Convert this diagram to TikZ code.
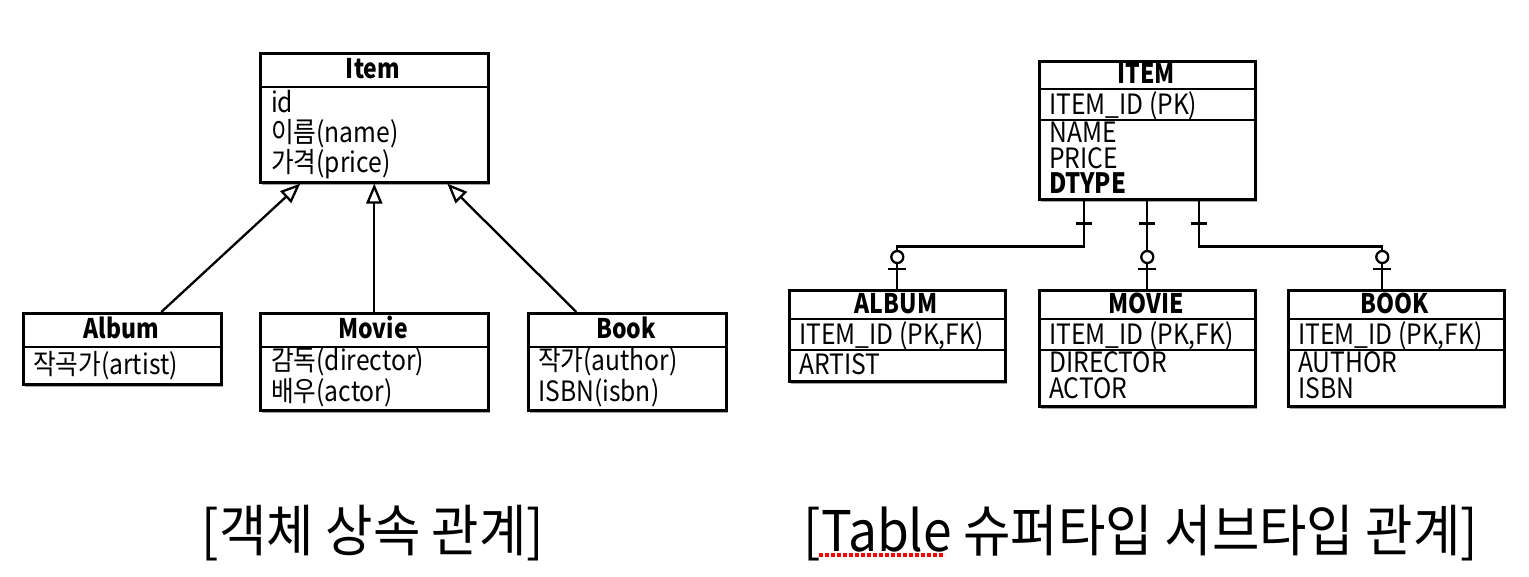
\documentclass[tikz,border=0pt]{standalone}
\usepackage{fontspec}
\setmainfont{Noto Sans CJK KR}
\newfontfamily\rowfont{Noto Sans CJK KR}[FakeStretch=0.88]
\newfontfamily\headfont{Noto Sans CJK KR}[FakeStretch=0.85]
\newfontfamily\capfont{Noto Sans CJK KR}[FakeStretch=0.92]
\usetikzlibrary{arrows.meta,shadows,calc}
\tikzset{
  box/.style={draw=black, line width=2.6pt, fill=white, anchor=north west, inner sep=0pt,
    drop shadow={shadow xshift=1.5pt, shadow yshift=-3pt, fill=black, opacity=0.35}},
  sepln/.style={line width=2.2pt},
  row/.style={anchor=base west, inner sep=0pt, text height=20pt, text depth=4pt,
    font=\rowfont\fontsize{28}{30}\selectfont},
  head/.style={anchor=base, inner sep=0pt, text height=20pt, text depth=4pt,
    font=\headfont\fontsize{27}{30}\selectfont\bfseries},
  captext/.style={anchor=base, inner sep=0pt, font=\capfont\fontsize{56}{60}\selectfont},
  inh/.style={line width=2.3pt, -{Triangle[open, length=20pt, width=16pt, line width=2.3pt]}},
  rel/.style={line width=2.3pt},
  tickln/.style={line width=2.3pt},
  ring/.style={line width=2.3pt, fill=white},
}
\begin{document}
\begin{tikzpicture}[x=1pt, y=-1pt]
\fill[white] (0,0) rectangle (1529,576);
\useasboundingbox (0,0) rectangle (1529,576);

% ---------- left: object inheritance ----------
\node[box, minimum width=228pt, minimum height=129pt] (item) at (259,52) {};
\draw[sepln] (259,87) -- (487,87);
\node[head] (itemh) at (373,78) {Item};
\node[row] (itemr1) at (271,112) {id};
\node[row] (itemr2) at (271,142) {이름(name)};
\node[row] (itemr3) at (271,172) {가격(price)};

\node[box, minimum width=198pt, minimum height=71pt] (album) at (22,312) {};
\draw[sepln] (22,347) -- (220,347);
\node[head] (albumh) at (121,338) {Album};
\node[row] (albumr1) at (33,374) {작곡가(artist)};

\node[box, minimum width=228pt, minimum height=97pt] (movie) at (259,312) {};
\draw[sepln] (259,347) -- (487,347);
\node[head] (movieh) at (373,338) {Movie};
\node[row] (movier1) at (271,370) {감독(director)};
\node[row] (movier2) at (271,401) {배우(actor)};

\node[box, minimum width=198pt, minimum height=97pt] (book) at (527,312) {};
\draw[sepln] (527,347) -- (725,347);
\node[head] (bookh) at (626,338) {Book};
\node[row] (bookr1) at (538,370) {작가(author)};
\node[row] (bookr2) at (538,401) {ISBN(isbn)};

\draw[inh] ([xshift=39pt]album.north) -- ([xshift=-74pt]item.south);
\draw[inh] (movie.north) -- (item.south);
\draw[inh] ([xshift=-51pt]book.north) -- ([xshift=73pt]item.south);

% ---------- right: tables ----------
\node[box, minimum width=216pt, minimum height=138pt] (titem) at (1038,60) {};
\draw[sepln] (1038,89) -- (1254,89);
\draw[sepln] (1038,120) -- (1254,120);
\node[head] (titemh) at (1146,83) {ITEM};
\node[row] (titemr1) at (1049,114) {ITEM\_ID (PK)};
\node[row] (titemr2) at (1049,142) {NAME};
\node[row] (titemr3) at (1049,168) {PRICE};
\node[row, font=\headfont\fontsize{28}{30}\selectfont\bfseries] (titemr4) at (1049,193) {DTYPE};

\node[box, minimum width=216pt, minimum height=91pt] (talbum) at (788,289) {};
\draw[sepln] (788,319) -- (1004,319);
\draw[sepln] (788,350) -- (1004,350);
\node[head] (talbumh) at (896,313) {ALBUM};
\node[row] (talbumr1) at (799,344) {ITEM\_ID (PK,FK)};
\node[row] (talbumr2) at (799,374) {ARTIST};

\node[box, minimum width=216pt, minimum height=116pt] (tmovie) at (1038,289) {};
\draw[sepln] (1038,319) -- (1254,319);
\draw[sepln] (1038,350) -- (1254,350);
\node[head] (tmovieh) at (1146,313) {MOVIE};
\node[row] (tmovier1) at (1049,344) {ITEM\_ID (PK,FK)};
\node[row] (tmovier2) at (1049,372) {DIRECTOR};
\node[row] (tmovier3) at (1049,398) {ACTOR};

\node[box, minimum width=216pt, minimum height=116pt] (tbook) at (1287,289) {};
\draw[sepln] (1287,319) -- (1503,319);
\draw[sepln] (1287,350) -- (1503,350);
\node[head] (tbookh) at (1395,313) {BOOK};
\node[row] (tbookr1) at (1298,344) {ITEM\_ID (PK,FK)};
\node[row] (tbookr2) at (1298,372) {AUTHOR};
\node[row] (tbookr3) at (1298,398) {ISBN};

% connectors
\draw[rel] ([xshift=-63pt]titem.south) -- ++(0,46) -| (talbum.north);
\draw[rel] (titem.south) -- (tmovie.north);
\draw[rel] ([xshift=52pt]titem.south) -- ++(0,46) -| ([xshift=-14pt]tbook.north);

% one-side ticks
\draw[tickln] ([xshift=-63pt]titem.south) ++(-8,23) -- ++(16,0);
\draw[tickln] (titem.south) ++(-8,23) -- ++(16,0);
\draw[tickln] ([xshift=52pt]titem.south) ++(-8,23) -- ++(16,0);

% zero-or-one markers
\draw[tickln] (talbum.north) ++(-9,-20) -- ++(18,0);
\draw[ring] (talbum.north) ++(0,-32) circle[radius=6pt];
\draw[tickln] (tmovie.north) ++(-9,-20) -- ++(18,0);
\draw[ring] (tmovie.north) ++(0,-32) circle[radius=6pt];
\draw[tickln] ([xshift=-14pt]tbook.north) ++(-9,-20) -- ++(18,0);
\draw[ring] ([xshift=-14pt]tbook.north) ++(0,-32) circle[radius=6pt];

% ---------- captions ----------
\node[captext] (cap1) at (373,551) {[객체 상속 관계]};
\node[captext] (cap2) at (1141,551) {[Table 슈퍼타입 서브타입 관계]};
\draw[red, line width=3.2pt, dash pattern=on 3.5pt off 2.5pt] (819,555) -- (945,555);
\end{tikzpicture}
\end{document}
